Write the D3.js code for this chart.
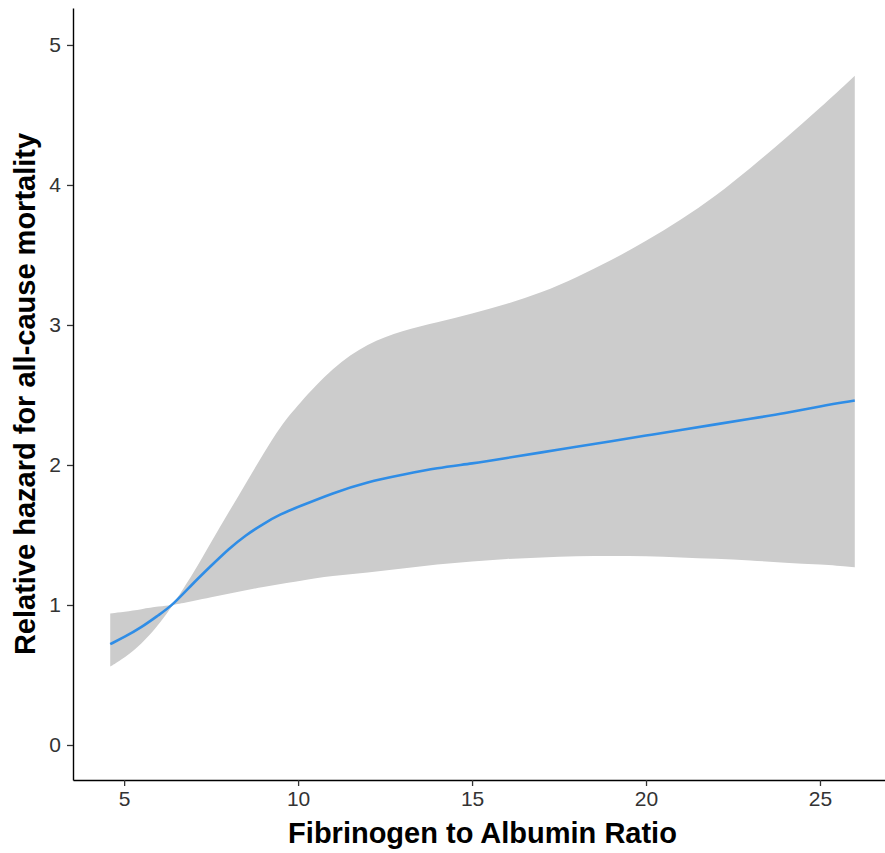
<!DOCTYPE html>
<html>
<head>
<meta charset="utf-8">
<script src="https://cdn.jsdelivr.net/npm/d3@7"></script>
<style>
  body { margin: 0; background: #fff; }
  svg { display: block; font-family: "Liberation Sans", Arial, sans-serif; }
</style>
</head>
<body>
<div id="chart"></div>
<script>
// values
var far   = [4.6, 5.0, 5.5, 6.0, 6.4, 7.0, 7.5, 8.0, 8.5, 9.0, 9.5, 10, 11, 12, 13, 14, 15, 16, 17, 18, 19, 20, 21, 22, 23, 24, 25, 26];
var hr    = [0.72, 0.77, 0.84, 0.93, 1.00, 1.16, 1.28, 1.40, 1.50, 1.58, 1.65, 1.70, 1.80, 1.88, 1.93, 1.98, 2.01, 2.05, 2.09, 2.13, 2.17, 2.21, 2.25, 2.29, 2.33, 2.37, 2.42, 2.46];
var ciLow = [0.56, 0.62, 0.72, 0.86, 1.00, 1.03, 1.055, 1.08, 1.105, 1.13, 1.15, 1.17, 1.21, 1.23, 1.26, 1.29, 1.31, 1.33, 1.34, 1.35, 1.35, 1.35, 1.34, 1.33, 1.32, 1.30, 1.29, 1.27];
var ciUp  = [0.94, 0.95, 0.97, 0.99, 1.00, 1.23, 1.45, 1.66, 1.87, 2.08, 2.28, 2.43, 2.70, 2.87, 2.96, 3.02, 3.08, 3.15, 3.23, 3.34, 3.46, 3.60, 3.75, 3.92, 4.12, 4.33, 4.55, 4.78];
var refX = 6.4;
var xTicks = [5, 10, 15, 20, 25];
var yTicks = [0, 1, 2, 3, 4, 5];

var W = 885, H = 853;
var margin = {top: 8, right: -7, bottom: 73, left: 73};

var svg = d3.select("#chart").append("svg")
    .attr("width", W)
    .attr("height", H);

var x = d3.scaleLinear()
    .domain([3.53, 27.07])
    .range([margin.left, W - margin.right]);

var y = d3.scaleLinear()
    .domain([-0.25, 5.264])
    .range([H - margin.bottom, margin.top]);

var data = far.map(function(v, i) {
    return {x: v, hr: hr[i], lo: ciLow[i], hi: ciUp[i]};
});

var band = d3.area()
    .x(function(d) { return x(d.x); })
    .y0(function(d) { return y(d.lo); })
    .y1(function(d) { return y(d.hi); })
    .curve(d3.curveBasis);

// two pieces, they cross at the reference value
svg.append("path")
    .datum(data.filter(function(d) { return d.x <= refX; }))
    .attr("d", band)
    .attr("fill", "#cccccc");
svg.append("path")
    .datum(data.filter(function(d) { return d.x >= refX; }))
    .attr("d", band)
    .attr("fill", "#cccccc");

var line = d3.line()
    .x(function(d) { return x(d.x); })
    .y(function(d) { return y(d.hr); })
    .curve(d3.curveBasis);

svg.append("path")
    .datum(data)
    .attr("d", line)
    .attr("fill", "none")
    .attr("stroke", "#2f8de6")
    .attr("stroke-width", 2.6);

// axes
var gx = svg.append("g")
    .attr("transform", "translate(0," + (H - margin.bottom) + ")")
    .call(d3.axisBottom(x).tickValues(xTicks).tickFormat(d3.format("d"))
        .tickSize(6).tickPadding(5).tickSizeOuter(0));

var gy = svg.append("g")
    .attr("transform", "translate(" + margin.left + ",0)")
    .call(d3.axisLeft(y).tickValues(yTicks).tickFormat(d3.format("d"))
        .tickSize(6).tickPadding(6).tickSizeOuter(0));

[gx, gy].forEach(function(g) {
    g.select(".domain").attr("stroke", "#000").attr("stroke-width", 1.4);
    g.selectAll(".tick line").attr("stroke", "#333").attr("stroke-width", 1.3);
    g.selectAll(".tick text")
        .attr("fill", "#333")
        .style("font-size", "21px")
        .style("font-family", "Liberation Sans, Arial, sans-serif");
});

svg.append("text")
    .attr("x", (margin.left + W - margin.right) / 2)
    .attr("y", 843)
    .attr("text-anchor", "middle")
    .style("font-size", "29px")
    .style("font-weight", "bold")
    .text("Fibrinogen to Albumin Ratio");

svg.append("text")
    .attr("transform", "translate(35," + ((margin.top + H - margin.bottom) / 2) + ")rotate(-90)")
    .attr("text-anchor", "middle")
    .style("font-size", "29px")
    .style("font-weight", "bold")
    .text("Relative hazard for all-cause mortality");
</script>
</body>
</html>
